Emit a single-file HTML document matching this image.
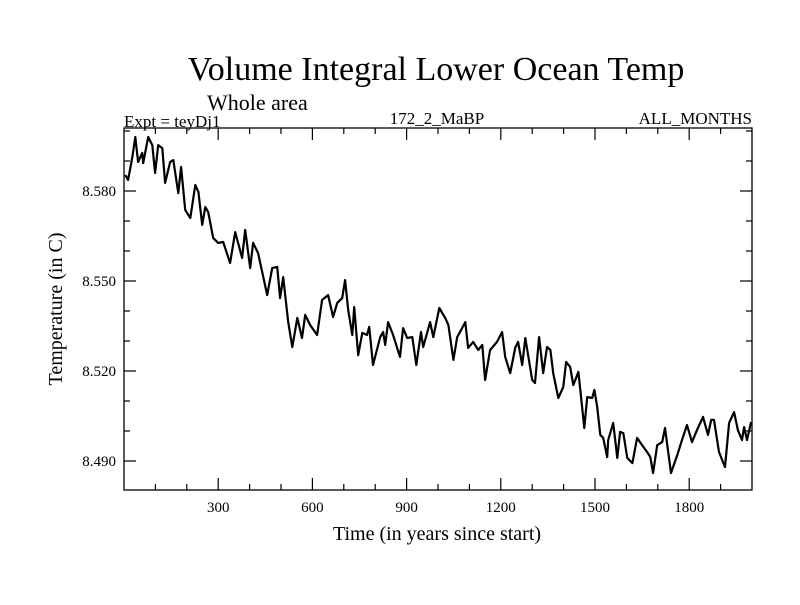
<!DOCTYPE html>
<html><head><meta charset="utf-8"><style>
body{margin:0;background:#fff;}
svg text{font-family:"Liberation Serif",serif;fill:#000;}
</style></head><body>
<svg id="c" width="800" height="600">
<text x="436" y="80" font-size="34" text-anchor="middle">Volume Integral Lower Ocean Temp</text>
<text x="207" y="110" font-size="22">Whole area</text>
<text x="124" y="127" font-size="17">Expt = teyDj1</text>
<text x="437" y="124" font-size="17" text-anchor="middle">172_2_MaBP</text>
<text x="752" y="124" font-size="17" text-anchor="end">ALL_MONTHS</text>
<text x="437" y="540" font-size="20" text-anchor="middle">Time (in years since start)</text>
<text transform="translate(62,309) rotate(-90)" font-size="20" text-anchor="middle">Temperature (in C)</text>
<rect x="124" y="128" width="628" height="362" fill="none" stroke="#000" stroke-width="1.3"/>
<g id="ticks"></g>
<path id="line" fill="none" stroke="#000" stroke-width="2.2" stroke-linejoin="round"/>
</svg>
<script>
const years=[4,13,26,36,45,58,61,77,90,99,109,122,131,147,157,173,182,195,211,227,237,249,259,268,284,300,316,338,354,376,386,402,411,427,456,472,488,497,507,523,536,552,567,577,593,615,631,650,666,679,695,704,714,727,733,746,759,774,781,793,816,825,832,841,857,879,889,902,918,931,946,953,975,985,1004,1023,1033,1049,1061,1087,1096,1112,1128,1141,1150,1166,1188,1204,1214,1230,1246,1255,1268,1278,1300,1309,1322,1335,1347,1358,1367,1383,1399,1408,1421,1431,1447,1459,1466,1475,1491,1498,1507,1517,1526,1539,1542,1558,1571,1580,1590,1603,1619,1634,1650,1666,1676,1685,1698,1714,1723,1742,1762,1777,1793,1809,1825,1844,1860,1870,1879,1895,1914,1927,1943,1955,1968,1975,1984,1997];
const temps=[8.5853,8.5837,8.5910,8.5980,8.5897,8.5927,8.5893,8.5980,8.5953,8.5860,8.5953,8.5943,8.5827,8.5897,8.5903,8.5793,8.5880,8.5737,8.5710,8.5820,8.5797,8.5687,8.5747,8.5730,8.5643,8.5627,8.5630,8.5560,8.5663,8.5577,8.5670,8.5543,8.5627,8.5593,8.5453,8.5543,8.5547,8.5443,8.5513,8.5363,8.5280,8.5377,8.5310,8.5387,8.5353,8.5320,8.5437,8.5453,
8.5380,8.5427,8.5443,8.5503,8.5403,8.5320,8.5413,8.5253,8.5327,8.5320,8.5347,8.5220,8.5313,8.5330,8.5287,8.5363,8.5320,8.5247,8.5343,8.5310,8.5313,8.5220,8.5330,8.5280,8.5363,8.5313,8.5410,8.5377,8.5353,8.5237,8.5313,8.5363,8.5277,8.5297,8.5270,8.5287,8.5170,8.5270,8.5297,8.5330,8.5247,8.5193,8.5277,8.5297,8.5220,8.5310,8.5170,8.5160,8.5313,8.5193,8.5280,
8.5270,8.5193,8.5110,8.5147,8.5230,8.5213,8.5153,8.5197,8.5080,8.5010,8.5113,8.5110,8.5137,8.5080,8.4987,8.4977,8.4913,8.4970,8.5027,8.4910,8.4997,8.4993,8.4910,8.4893,8.4977,8.4953,8.4930,8.4913,8.4860,8.4953,8.4963,8.5010,8.4860,8.4920,8.4970,8.5020,8.4963,8.5003,8.5047,8.4987,8.5037,8.5037,8.4930,8.4880,8.5027,8.5063,8.5003,8.4970,8.5013,8.4970,8.5030];
const xTicks=[300,600,900,1200,1500,1800];
const yTicks=[8.490,8.520,8.550,8.580];
const xDomain=[0,2000], yDomain=[8.48033,8.60100];
const L=124,R=752,T=128,B=490;
const sx=v=>L+(v-xDomain[0])/(xDomain[1]-xDomain[0])*(R-L);
const sy=v=>B-(v-yDomain[0])/(yDomain[1]-yDomain[0])*(B-T);
const NS='http://www.w3.org/2000/svg';
const g=document.getElementById('ticks');
function ln(x1,y1,x2,y2){const l=document.createElementNS(NS,'line');l.setAttribute('x1',x1);l.setAttribute('y1',y1);l.setAttribute('x2',x2);l.setAttribute('y2',y2);l.setAttribute('stroke','#000');l.setAttribute('stroke-width','1.2');


g.appendChild(l);}
for(let v=100;v<2000;v+=100){const x=sx(v),len=v%300===0?12:6;ln(x,B,x,B-len);ln(x,T,x,T+len);}
for(let k=849;k<=860;k++){const v=k/100;const y=sy(v);if(y<T||y>B)continue;const len=(k%3===0)?12:6;ln(L,y,L+len,y);ln(R,y,R-len,y);}
xTicks.forEach(v=>{const t=document.createElementNS(NS,'text');t.setAttribute('x',sx(v));t.setAttribute('y',B+22);t.setAttribute('font-size','15');t.setAttribute('text-anchor','middle');t.textContent=v;


g.appendChild(t);});
yTicks.forEach(v=>{const t=document.createElementNS(NS,'text');t.setAttribute('x',L-8);t.setAttribute('y',sy(v)+5);t.setAttribute('font-size','15');t.setAttribute('text-anchor','end');t.textContent=v.toFixed(3);


g.appendChild(t);});
document.getElementById('line').setAttribute('d',years.map((y,i)=>(i?'L':'M')+sx(y).toFixed(1)+','+sy(temps[i]).toFixed(1)).join(''));
</script>
</body></html>
